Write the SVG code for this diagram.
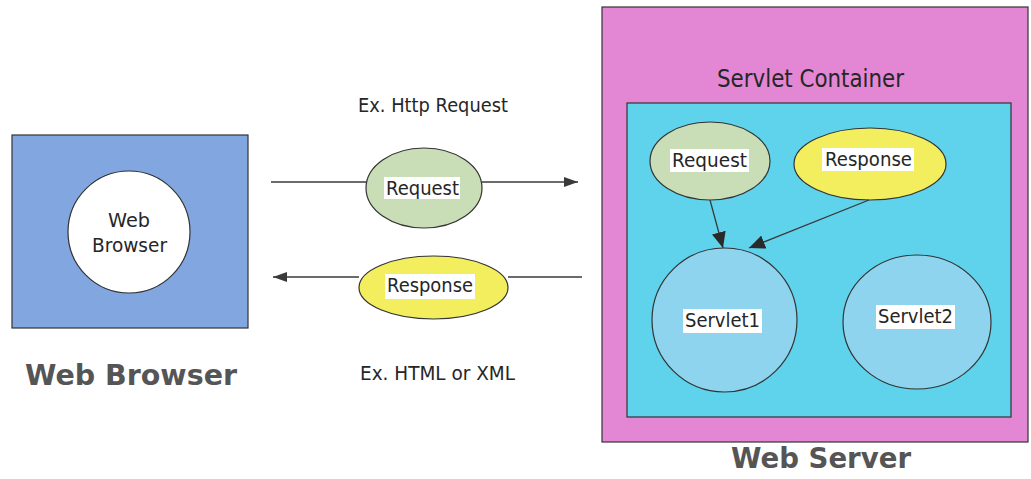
<svg xmlns="http://www.w3.org/2000/svg" width="1031" height="479" viewBox="0 0 1031 479">
  <defs>
    <style>
      .txt { font-family: "DejaVu Sans", "Liberation Sans", sans-serif; fill: #262626; }
      .big { font-family: "DejaVu Sans", "Liberation Sans", sans-serif; font-weight: bold; fill: #555; font-size: 28px; }
      .edge { stroke: #3a3a3a; stroke-width: 1.3; fill: none; }
      .node { stroke: #333; stroke-width: 1.2; }
      .lbl { fill: #fff; }
    </style>
    <marker id="headSmall" viewBox="0 0 14 10" refX="14" refY="5" markerUnits="userSpaceOnUse" markerWidth="14" markerHeight="10" orient="auto">
      <path d="M0,0 L14,5 L0,10 Z" fill="#3a3a3a"/>
    </marker>
    <marker id="headBig" viewBox="0 0 16 14" refX="16" refY="7" markerUnits="userSpaceOnUse" markerWidth="16" markerHeight="14" orient="auto">
      <path d="M0,0 L16,7 L0,14 Z" fill="#2a2a2a"/>
    </marker>
  </defs>

  <rect width="1031" height="479" fill="#fff"/>

  <!-- client side -->
  <g id="web-browser">
    <rect x="12" y="135" width="236" height="193" fill="#82a7e0" class="node"/>
    <circle cx="129" cy="232" r="61" fill="#fff" class="node"/>
    <text class="txt" font-size="20" x="108" y="227" textLength="42" lengthAdjust="spacingAndGlyphs">Web</text>
    <text class="txt" font-size="20" x="92" y="252" textLength="75" lengthAdjust="spacingAndGlyphs">Browser</text>
    <text class="big" x="25" y="385" textLength="212" lengthAdjust="spacingAndGlyphs">Web Browser</text>
  </g>

  <!-- server side -->
  <g id="web-server">
    <rect x="602" y="7" width="426" height="435" fill="#e387d5" class="node"/>
    <text class="txt" font-size="24" x="717" y="87" textLength="187" lengthAdjust="spacingAndGlyphs">Servlet Container</text>
    <text class="big" x="731" y="468" textLength="180" lengthAdjust="spacingAndGlyphs">Web Server</text>
  </g>

  <g id="servlet-container">
    <rect x="627" y="103" width="384" height="314" fill="#5fd2ec" class="node"/>
  </g>

  <g id="container-request">
    <ellipse cx="710" cy="161" rx="60" ry="39" fill="#c9deb6" class="node"/>
    <rect class="lbl" x="670" y="149" width="79" height="23"/>
    <text class="txt" font-size="20" x="672" y="167" textLength="75" lengthAdjust="spacingAndGlyphs">Request</text>
  </g>

  <g id="container-response">
    <ellipse cx="870" cy="164" rx="76" ry="36" fill="#f3ee5e" class="node"/>
    <rect class="lbl" x="822" y="148" width="92" height="23"/>
    <text class="txt" font-size="20" x="825" y="166" textLength="87" lengthAdjust="spacingAndGlyphs">Response</text>
  </g>

  <g id="servlet1">
    <ellipse cx="724.5" cy="320" rx="72.5" ry="72" fill="#8ed4ee" class="node"/>
    <rect class="lbl" x="683" y="309" width="79" height="24"/>
    <text class="txt" font-size="20" x="685" y="327" textLength="75" lengthAdjust="spacingAndGlyphs">Servlet1</text>
  </g>

  <g id="servlet2">
    <ellipse cx="917" cy="322" rx="74" ry="67" fill="#8ed4ee" class="node"/>
    <rect class="lbl" x="876" y="305" width="79" height="24"/>
    <text class="txt" font-size="20" x="878" y="323" textLength="75" lengthAdjust="spacingAndGlyphs">Servlet2</text>
  </g>

  <!-- messages in transit -->
  <g id="msg-request">
    <text class="txt" font-size="19" x="358" y="112" textLength="150" lengthAdjust="spacingAndGlyphs">Ex. Http Request</text>
    <ellipse cx="424" cy="188" rx="58" ry="40" fill="#c9deb6" class="node"/>
    <rect class="lbl" x="384" y="177" width="76" height="22"/>
    <text class="txt" font-size="20" x="386" y="195" textLength="73" lengthAdjust="spacingAndGlyphs">Request</text>
  </g>

  <g id="msg-response">
    <ellipse cx="433.5" cy="287.5" rx="74.5" ry="31.5" fill="#f3ee5e" class="node"/>
    <rect class="lbl" x="385" y="274" width="90" height="25"/>
    <text class="txt" font-size="20" x="387" y="292" textLength="86" lengthAdjust="spacingAndGlyphs">Response</text>
    <text class="txt" font-size="19" x="360" y="380" textLength="155" lengthAdjust="spacingAndGlyphs">Ex. HTML or XML</text>
  </g>

  <!-- connectors -->
  <g id="connectors">
    <line class="edge" x1="271" y1="182" x2="366" y2="182"/>
    <line class="edge" x1="482" y1="182" x2="578" y2="182" marker-end="url(#headSmall)"/>
    <line class="edge" x1="582" y1="277" x2="508" y2="277"/>
    <line class="edge" x1="359" y1="277" x2="273" y2="277" marker-end="url(#headSmall)"/>
    <line class="edge" x1="710" y1="200" x2="723" y2="248" marker-end="url(#headBig)"/>
    <line class="edge" x1="869" y1="200" x2="749" y2="248" marker-end="url(#headBig)"/>
  </g>
</svg>
